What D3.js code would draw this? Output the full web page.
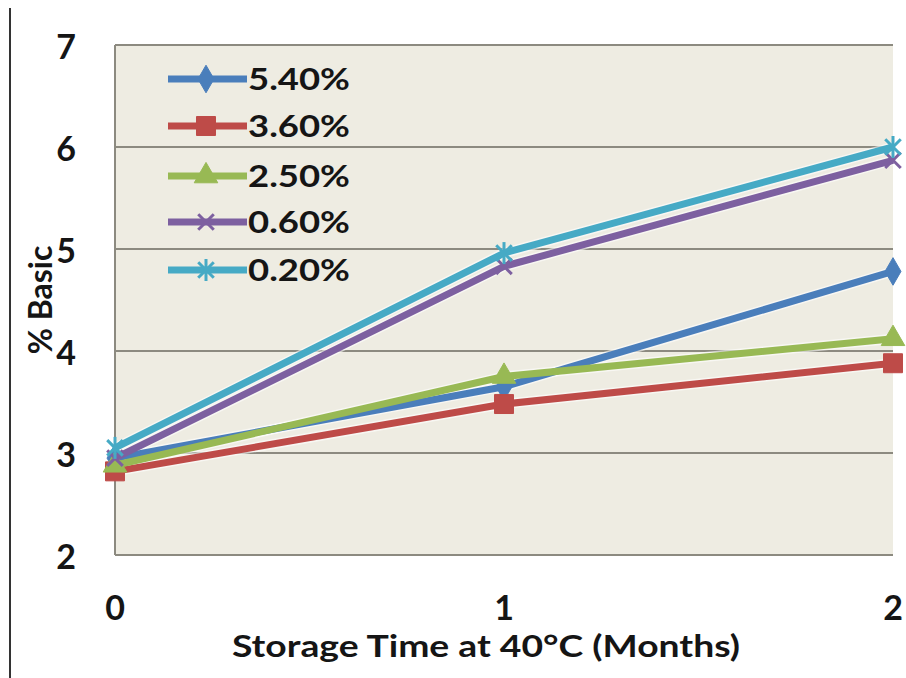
<!DOCTYPE html>
<html>
<head>
<meta charset="utf-8">
<script src="https://cdn.jsdelivr.net/npm/d3@7"></script>
<style>
  html, body { margin: 0; padding: 0; background: #fff; }
  svg { display: block; }
  text { font-family: Lato, "Open Sans", sans-serif; font-weight: bold; fill: #151515; }
</style>
</head>
<body>
<svg id="chart" width="906" height="678"></svg>
<script>
// Months of storage at 40°C
const months = [0, 1, 2];
// Series names (legend) and colours
const seriesNames = ["5.40%", "3.60%", "2.50%", "0.60%", "0.20%"];
const seriesColors = ["#4A7EBB", "#BE4B48", "#98B954", "#7D60A0", "#46AAC5"];
const seriesSymbols = ["diamond", "square", "triangle", "cross", "star"];
// % Basic per series, at 0, 1 and 2 months
const s540 = [2.95, 3.65, 4.78];
const s360 = [2.82, 3.48, 3.88];
const s250 = [2.88, 3.75, 4.12];
const s060 = [2.95, 4.83, 5.87];
const s020 = [3.05, 4.96, 6.0];
const seriesValues = [s540, s360, s250, s060, s020];
// Axis ticks
const yTicks = [2, 3, 4, 5, 6, 7];
const xTicks = [0, 1, 2];

const svg = d3.select("#chart");
const plotL = 115, plotR = 893, plotT = 45, plotB = 555;

const x = d3.scaleLinear().domain([0, 2]).range([plotL, plotR]);
const y = d3.scaleLinear().domain([2, 7]).range([plotB, plotT]);

// Outer frame line on the left
svg.append("line").attr("x1", 10).attr("x2", 10).attr("y1", 8).attr("y2", 678)
  .attr("stroke", "#333").attr("stroke-width", 2);

// Plot background
svg.append("rect").attr("x", plotL).attr("y", plotT)
  .attr("width", plotR - plotL).attr("height", plotB - plotT)
  .attr("fill", "#EEECE2");

// Horizontal gridlines
svg.append("g").selectAll("line").data(yTicks.filter(d => d > 2)).join("line")
  .attr("x1", plotL).attr("x2", plotR)
  .attr("y1", d => y(d)).attr("y2", d => y(d))
  .attr("stroke", "#8C8A80").attr("stroke-width", 2);

// Axis lines (left and bottom)
svg.append("line").attr("x1", plotL).attr("x2", plotL).attr("y1", plotT).attr("y2", plotB)
  .attr("stroke", "#8C8A80").attr("stroke-width", 2);
svg.append("line").attr("x1", plotL).attr("x2", plotR).attr("y1", plotB).attr("y2", plotB)
  .attr("stroke", "#8C8A80").attr("stroke-width", 2);

// Y tick labels
svg.append("g").selectAll("text").data(yTicks).join("text")
  .attr("x", 66).attr("y", d => y(d) + 2)
  .attr("dy", "0.36em").attr("text-anchor", "middle")
  .attr("font-size", 34).text(d => d);

// X tick labels
svg.append("g").selectAll("text").data(xTicks).join("text")
  .attr("x", d => x(d)).attr("y", 608)
  .attr("dy", "0.36em").attr("text-anchor", "middle")
  .attr("font-size", 34).text(d => d);

// Axis titles
svg.append("text").attr("x", 232).attr("y", 657)
  .attr("font-size", 31)
  .attr("textLength", 508).attr("lengthAdjust", "spacingAndGlyphs")
  .text("Storage Time at 40°C (Months)");
svg.append("text")
  .attr("transform", "translate(40,300) rotate(-90)")
  .attr("dy", "0.36em").attr("text-anchor", "middle")
  .attr("font-size", 32).text("% Basic");

// Marker drawing helper
function drawMarker(g, type, color, cx, cy) {
  const sym = {
    diamond: d3.symbol(d3.symbolDiamond, 220),
    square: d3.symbol(d3.symbolSquare, 360),
    triangle: d3.symbol(d3.symbolTriangle, 240)
  };
  if (sym[type]) {
    g.append("path").attr("d", sym[type]()).attr("transform", `translate(${cx},${cy})`)
      .attr("fill", color).attr("stroke", color).attr("stroke-width", 1);
  } else {
    const r = 11;
    const arms = type === "cross" ? [45, 135] : [45, 135, 90];
    arms.forEach(a => {
      const rad = a * Math.PI / 180;
      g.append("line")
        .attr("x1", cx - r * Math.cos(rad)).attr("y1", cy - r * Math.sin(rad))
        .attr("x2", cx + r * Math.cos(rad)).attr("y2", cy + r * Math.sin(rad))
        .attr("stroke", color).attr("stroke-width", 3);
    });
  }
}

// Series lines and markers
const line = d3.line().x((d, i) => x(months[i])).y(d => y(d));
const plot = svg.append("g");
seriesValues.forEach((vals, k) => {
  plot.append("path").datum(vals).attr("d", line)
    .attr("fill", "none").attr("stroke", "#fff").attr("stroke-opacity", 0.6)
    .attr("stroke-width", 10).attr("stroke-linejoin", "round");
});
seriesValues.forEach((vals, k) => {
  const g = plot.append("g");
  g.append("path").datum(vals).attr("d", line)
    .attr("fill", "none").attr("stroke", seriesColors[k])
    .attr("stroke-width", 7).attr("stroke-linejoin", "round");
  vals.forEach((v, i) => drawMarker(g, seriesSymbols[k], seriesColors[k], x(months[i]), y(v)));
});

// Legend
const legendY = [79, 126, 176, 222, 270];
const legend = svg.append("g");
seriesNames.forEach((name, k) => {
  const ly = legendY[k];
  legend.append("line").attr("x1", 168).attr("x2", 247).attr("y1", ly).attr("y2", ly)
    .attr("stroke", seriesColors[k]).attr("stroke-width", 7);
  drawMarker(legend, seriesSymbols[k], seriesColors[k], 206, ly);
  legend.append("text").attr("x", 248).attr("y", ly + 11)
    .attr("font-size", 31)
    .attr("textLength", 102).attr("lengthAdjust", "spacingAndGlyphs")
    .text(name);
});
</script>
</body>
</html>
